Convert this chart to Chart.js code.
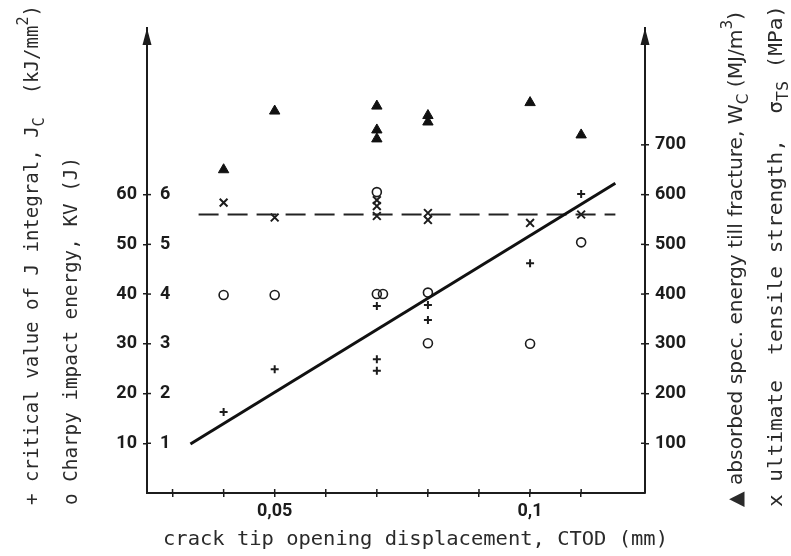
<!DOCTYPE html>
<html>
<head>
<meta charset="utf-8">
<style>
  html, body { margin: 0; padding: 0; background: #fff; }
  #wrap { width: 791px; height: 556px; position: relative; }
</style>
</head>
<body>
<div id="wrap"><canvas id="ctodChart"></canvas></div>
<script src="https://cdn.jsdelivr.net/npm/chart.js@4/dist/chart.umd.min.js"></script>
<script>
// + critical J integral, J_c (left axis)
const jcCtod = [0.04, 0.05, 0.07, 0.07, 0.07, 0.08, 0.08, 0.10, 0.11];
const jcValues = [16.3, 24.9, 37.6, 26.9, 24.6, 37.8, 34.8, 46.2, 60.1];

// o Charpy impact energy, KV in J (inner left labels)
const kvCtod = [0.04, 0.05, 0.07, 0.0712, 0.07, 0.08, 0.08, 0.10, 0.11];
const kvValues = [3.98, 3.98, 4.0, 4.0, 6.05, 4.03, 3.01, 3.0, 5.04];

// x ultimate tensile strength in MPa (right axis)
const tsCtod = [0.04, 0.05, 0.07, 0.07, 0.07, 0.08, 0.08, 0.10, 0.11];
const tsValues = [584, 554, 589, 577, 557, 563, 549, 543, 560];

// triangle: absorbed spec. energy W_c in MJ/m3 (right axis)
const wcCtod = [0.04, 0.05, 0.07, 0.07, 0.07, 0.08, 0.08, 0.10, 0.11];
const wcValues = [650, 768, 778, 730, 712, 759, 746, 785, 720];

// fitted J_c line and mean tensile strength line
const fitCtod = [0.0335, 0.1167];
const fitJc = [9.85, 62.3];
const meanTsCtod = [0.0351, 0.1167];
const meanTs = [560, 560];

// axis ticks
const xTicks = [0.03, 0.04, 0.05, 0.06, 0.07, 0.08, 0.09, 0.10, 0.11];
const xLabelValues = [0.05, 0.1];
const xLabelTexts = ['0,05', '0,1'];
const leftTicks = [10, 20, 30, 40, 50, 60];
const kvTicks = [1, 2, 3, 4, 5, 6];
const rightTicks = [100, 200, 300, 400, 500, 600, 700];

const ink = '#1c1c1c';
const tickFont = { family: 'Roboto', size: 18, weight: 'bold' };
const mono = s => `${s}px 'DejaVu Sans Mono', 'Liberation Mono', monospace`;
const narrow = s => `${s}px 'Liberation Sans Narrow', 'DejaVu Sans Condensed', 'Liberation Sans', sans-serif`;

const pts = (xs, ys) => xs.map((x, i) => ({ x: x, y: ys[i] }));
const asTicks = arr => arr.map(v => ({ value: v }));

// axis titles, drawn along the axes (rotated ones read bottom to top)
const titles = [
  { x: 33, y: 505, len: 500, rot: true, parts: [
    { t: '+ critical value of J integral, J', f: mono(19) },
    { t: 'C', f: mono(15), dy: 7 },
    { t: '  (kJ/mm', f: mono(19) },
    { t: '2', f: mono(15), dy: -9 },
    { t: ')', f: mono(19) } ] },
  { x: 72, y: 505, len: 348, rot: true, parts: [
    { t: 'o Charpy impact energy, KV (J)', f: mono(19) } ] },
  { x: 737, y: 507, len: 495, rot: true, parts: [
    { t: '\u25B2 absorbed spec. energy till fracture, W', f: narrow(20) },
    { t: 'C', f: narrow(15), dy: 7 },
    { t: ' (MJ/m', f: narrow(20) },
    { t: '3', f: narrow(15), dy: -9 },
    { t: ')', f: narrow(20) } ] },
  { x: 777, y: 507, len: 502, rot: true, parts: [
    { t: 'x ultimate  tensile strength,  \u03C3', f: mono(19) },
    { t: 'TS', f: mono(15), dy: 7 },
    { t: ' (MPa)', f: mono(19) } ] },
  { x: 163, y: 540, len: 505, rot: false, parts: [
    { t: 'crack tip opening displacement, CTOD (mm)', f: mono(19) } ] }
];

function drawTitle(ctx, tl) {
  ctx.save();
  ctx.translate(tl.x, tl.y);
  if (tl.rot) ctx.rotate(-Math.PI / 2);
  let total = 0;
  tl.parts.forEach(p => { ctx.font = p.f; total += ctx.measureText(p.t).width; });
  ctx.scale(tl.len / total, 1);
  ctx.fillStyle = '#2a2a2a';
  ctx.textBaseline = 'middle';
  ctx.textAlign = 'left';
  let cx = 0;
  tl.parts.forEach(p => {
    ctx.font = p.f;
    ctx.fillText(p.t, cx, p.dy || 0);
    cx += ctx.measureText(p.t).width;
  });
  ctx.restore();
}

const decor = {
  id: 'decor',
  afterDraw(chart) {
    const ctx = chart.ctx;
    const a = chart.chartArea;
    const yL = chart.scales.y, yK = chart.scales.yKV, yR = chart.scales.yR, x = chart.scales.x;
    ctx.save();
    ctx.strokeStyle = ink;
    ctx.fillStyle = ink;
    ctx.lineWidth = 1.5;
    // inner halves of the tick marks
    leftTicks.forEach(v => {
      const py = yL.getPixelForValue(v);
      ctx.beginPath(); ctx.moveTo(a.left, py); ctx.lineTo(a.left + 4, py); ctx.stroke();
    });
    rightTicks.forEach(v => {
      const py = yR.getPixelForValue(v);
      ctx.beginPath(); ctx.moveTo(a.right - 4, py); ctx.lineTo(a.right, py); ctx.stroke();
    });
    xTicks.forEach(v => {
      const px = x.getPixelForValue(v);
      ctx.beginPath(); ctx.moveTo(px, a.bottom - 4); ctx.lineTo(px, a.bottom); ctx.stroke();
    });
    // KV labels inside the left axis
    ctx.font = `${tickFont.weight} ${tickFont.size}px ${tickFont.family}`;
    ctx.textAlign = 'left';
    ctx.textBaseline = 'middle';
    kvTicks.forEach(v => ctx.fillText(String(v), a.left + 13, yK.getPixelForValue(v)));
    // arrow heads on both vertical axes
    [a.left, a.right].forEach(px => {
      ctx.beginPath();
      ctx.moveTo(px, a.top);
      ctx.lineTo(px - 4.5, a.top + 17);
      ctx.lineTo(px + 4.5, a.top + 17);
      ctx.closePath();
      ctx.fill();
    });
    ctx.restore();
    titles.forEach(tl => drawTitle(ctx, tl));
  }
};

const edgeAxis = {
  border: { display: true, color: ink, width: 2 },
  grid: { drawOnChartArea: false, drawTicks: true, tickLength: 4, color: ink, lineWidth: 1.5 }
};

new Chart(document.getElementById('ctodChart'), {
  type: 'scatter',
  data: {
    datasets: [
      { label: 'J_c fit', type: 'line', data: pts(fitCtod, fitJc), yAxisID: 'y',
        borderColor: '#111', borderWidth: 3, pointRadius: 0, fill: false },
      { label: 'mean tensile strength', type: 'line', data: pts(meanTsCtod, meanTs), yAxisID: 'yR',
        borderColor: '#222', borderWidth: 1.8, borderDash: [20, 9], pointRadius: 0, fill: false },
      { label: 'J_c', data: pts(jcCtod, jcValues), yAxisID: 'y',
        pointStyle: 'cross', pointRadius: 4, borderWidth: 2, borderColor: ink },
      { label: 'KV', data: pts(kvCtod, kvValues), yAxisID: 'yKV',
        pointStyle: 'circle', pointRadius: 4.5, borderWidth: 1.6, borderColor: ink, backgroundColor: 'rgba(0,0,0,0)' },
      { label: 'tensile strength', data: pts(tsCtod, tsValues), yAxisID: 'yR',
        pointStyle: 'crossRot', pointRadius: 5.5, borderWidth: 2, borderColor: ink },
      { label: 'W_c', data: pts(wcCtod, wcValues), yAxisID: 'yR',
        pointStyle: 'triangle', pointRadius: 6, borderWidth: 1, borderColor: '#111', backgroundColor: '#111' }
    ]
  },
  options: {
    responsive: true,
    maintainAspectRatio: false,
    animation: false,
    layout: { padding: { top: 28, left: 0, right: 0, bottom: 0 } },
    plugins: { legend: { display: false }, tooltip: { enabled: false } },
    scales: {
      x: {
        ...edgeAxis,
        type: 'linear', position: 'bottom', min: 0.025, max: 0.1225,
        afterBuildTicks: s => { s.ticks = asTicks(xTicks); },
        afterFit: s => { s.height = 63; },
        ticks: {
          autoSkip: false, maxRotation: 0, padding: 4, color: ink, font: tickFont,
          callback: v => {
            const i = xLabelValues.findIndex(l => Math.abs(l - v) < 1e-6);
            return i >= 0 ? xLabelTexts[i] : '';
          }
        }
      },
      y: {
        ...edgeAxis,
        position: 'left', min: 0, max: 93.5,
        afterBuildTicks: s => { s.ticks = asTicks(leftTicks); },
        afterFit: s => { s.width = 147; },
        ticks: { padding: 6, color: ink, font: tickFont }
      },
      yKV: { display: false, min: 0, max: 9.35 },
      yR: {
        ...edgeAxis,
        position: 'right', min: 0, max: 935,
        afterBuildTicks: s => { s.ticks = asTicks(rightTicks); },
        afterFit: s => { s.width = 146; },
        ticks: { padding: 6, color: ink, font: tickFont }
      }
    }
  },
  plugins: [decor]
});
</script>
</body>
</html>
